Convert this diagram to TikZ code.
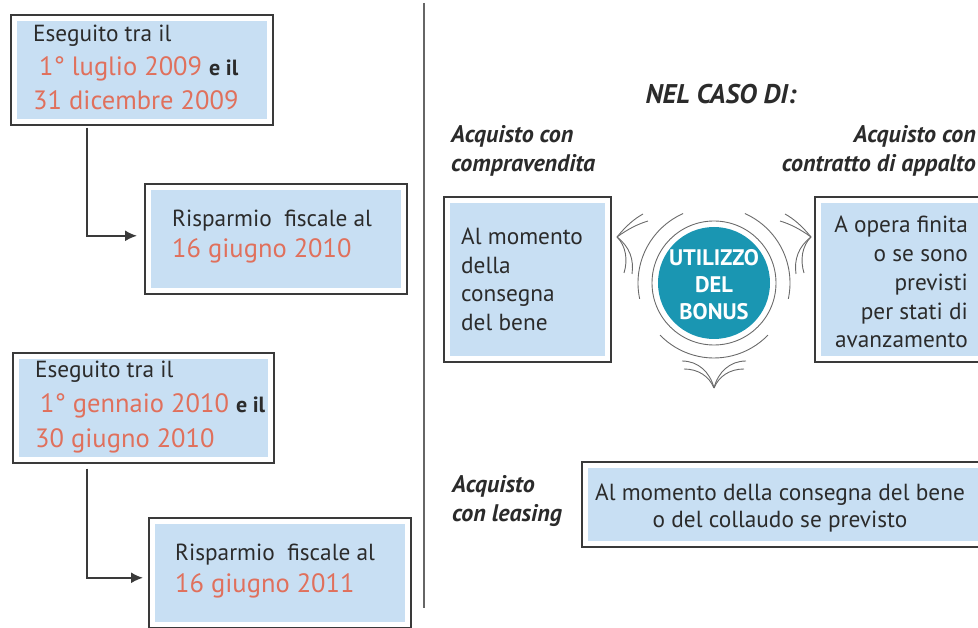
\documentclass[tikz,border=0pt]{standalone}
\usepackage{fontspec}
\setmainfont{PT Sans}
\usetikzlibrary{arrows.meta}
\definecolor{boxblue}{HTML}{C8DFF3}
\definecolor{redc}{HTML}{E0705C}
\definecolor{tealc}{HTML}{1A96B2}
\definecolor{framec}{HTML}{3A3A3A}
\definecolor{txt}{HTML}{2B2B2B}
\definecolor{ornc}{HTML}{6A6A6A}
\definecolor{divc}{HTML}{666666}
\begin{document}
\begin{tikzpicture}[x=1pt,y=-1pt,
  frame/.style={draw=framec, line width=1.6pt, fill=white, inner sep=0pt, anchor=north west,
    path picture={\fill[boxblue] ([xshift=6pt,yshift=-6pt]path picture bounding box.north west) rectangle ([xshift=-6pt,yshift=6pt]path picture bounding box.south east);}},
  blk/.style={text=txt, font=\fontsize{23.3}{26}\selectfont, inner sep=0pt, anchor=base west},
  rtxt/.style={text=redc, font=\fontsize{26.5}{30}\selectfont, inner sep=0pt, anchor=base west},
  lbl/.style={text=txt, font=\fontsize{24}{28}\selectfont\bfseries\itshape, inner sep=0pt, anchor=base west},
  wtxt/.style={text=white, font=\fontsize{22.5}{26}\selectfont\bfseries, inner sep=0pt, anchor=base},
  conn/.style={draw=framec, line width=1.8pt, -{Latex[length=12pt,width=11pt]}},
  orn/.style={draw=ornc, line width=0.9pt}]
\useasboundingbox (0,0) rectangle (978,628);
% divider
\draw[draw=divc, line width=1.8pt] (424,3) -- (424,608);
% left boxes
\node[frame, minimum width=262pt, minimum height=110pt] (b1) at (10,14) {};
\node[frame, minimum width=262pt, minimum height=110pt] (b2) at (144,183) {};
\node[frame, minimum width=261pt, minimum height=110pt] (b3) at (12,352) {};
\node[frame, minimum width=262pt, minimum height=110pt] (b4) at (148,517) {};
\draw[conn, shorten >=7pt] ([xshift=77pt,yshift=-2pt]b1.south west) |- ([yshift=3pt]b2.west);
\draw[conn, shorten >=5pt] ([xshift=75pt,yshift=-5pt]b3.south west) |- ([yshift=-5pt]b4.west);
% left texts
\node[blk] (t1a) at (33,42) {Eseguito tra il};
\node[rtxt] (t1b) at (39,76) {1° luglio 2009 \textcolor{txt}{\fontsize{22}{26}\selectfont\bfseries e il}};
\node[rtxt] (t1c) at (33,110) {31 dicembre 2009};
\node[blk] (t2a) at (172,227) {Risparmio\ \ fiscale al};
\node[rtxt] (t2b) at (172,258) {16 giugno 2010};
\node[blk] (t3a) at (35,378) {Eseguito tra il};
\node[rtxt] (t3b) at (40,413) {1° gennaio 2010 \textcolor{txt}{\fontsize{22}{26}\selectfont\bfseries e il}};
\node[rtxt] (t3c) at (35,447) {30 giugno 2010};
\node[blk] (t4a) at (175,560) {Risparmio\ \ fiscale al};
\node[rtxt] (t4b) at (175,592) {16 giugno 2011};
% right side
\node[lbl, font=\fontsize{27}{30}\selectfont\bfseries\itshape, anchor=base] (title) at (721,104) {NEL CASO DI:};
\node[lbl] (la1) at (451,143) {Acquisto con};
\node[lbl] (la2) at (451,172) {compravendita};
\node[lbl, anchor=base east] (ra1) at (976,143) {Acquisto con};
\node[lbl, anchor=base east] (ra2) at (976,172) {contratto di appalto};
\node[frame, minimum width=167pt, minimum height=165pt] (c1) at (443,196) {};
\node[frame, minimum width=172pt, minimum height=165pt] (c2) at (814,196) {};
\node[frame, minimum width=405pt, minimum height=85pt] (c3) at (581,461) {};
\node[blk] (l1) at (461,245) {Al momento};
\node[blk] (l2) at (461,274) {della};
\node[blk] (l3) at (461,302) {consegna};
\node[blk] (l4) at (461,331) {del bene};
\node[blk, anchor=base east] (r1) at (968,233) {A opera finita};
\node[blk, anchor=base east] (r2) at (968,262) {o se sono};
\node[blk, anchor=base east] (r3) at (968,291) {previsti};
\node[blk, anchor=base east] (r4) at (968,320) {per stati di};
\node[blk, anchor=base east] (r5) at (968,348) {avanzamento};
\node[lbl] (lb1) at (452,493) {Acquisto};
\node[lbl] (lb2) at (452,521) {con leasing};
\node[blk, anchor=base] (m1) at (780,500) {Al momento della consegna del bene};
\node[blk, anchor=base] (m2) at (780,527) {o del collaudo se previsto};
% bonus circle
\node[circle, fill=tealc, minimum size=112pt, inner sep=0pt] (bonus) at (714,283) {};
\draw[orn] (bonus.center) circle[radius=62pt];
\draw[orn] ([shift={(114:76pt)}]bonus.center) arc[start angle=114, end angle=192, radius=76pt];
\draw[orn] ([shift={(66:76pt)}]bonus.center) arc[start angle=66, end angle=-12, radius=76pt];
\draw[orn] ([shift={(224:75pt)}]bonus.center) arc[start angle=224, end angle=316, radius=75pt];
% wings
\draw[orn] (617,237) .. controls (626,226) and (634,219) .. (643,214);
\draw[orn] (617,237) .. controls (628,229) and (638,224) .. (648,221);
\draw[orn] (617,237) .. controls (626,246) and (628,260) .. (624,273);
\draw[orn] (617,237) .. controls (630,247) and (634,260) .. (632,274);
\draw[orn] (811,237) .. controls (802,226) and (794,219) .. (785,214);
\draw[orn] (811,237) .. controls (800,229) and (790,224) .. (780,221);
\draw[orn] (811,237) .. controls (802,246) and (800,260) .. (804,273);
\draw[orn] (811,237) .. controls (798,247) and (794,260) .. (796,274);
\draw[orn] (682,361) .. controls (698,361) and (710,372) .. (714,388);
\draw[orn] (684,369) .. controls (698,369) and (709,376) .. (714,388);
\draw[orn] (746,361) .. controls (730,361) and (718,372) .. (714,388);
\draw[orn] (744,369) .. controls (730,369) and (719,376) .. (714,388);
\node[wtxt] (u1) at (714,266) {UTILIZZO};
\node[wtxt] (u2) at (714,293) {DEL};
\node[wtxt] (u3) at (714,320) {BONUS};
\end{tikzpicture}
\end{document}
